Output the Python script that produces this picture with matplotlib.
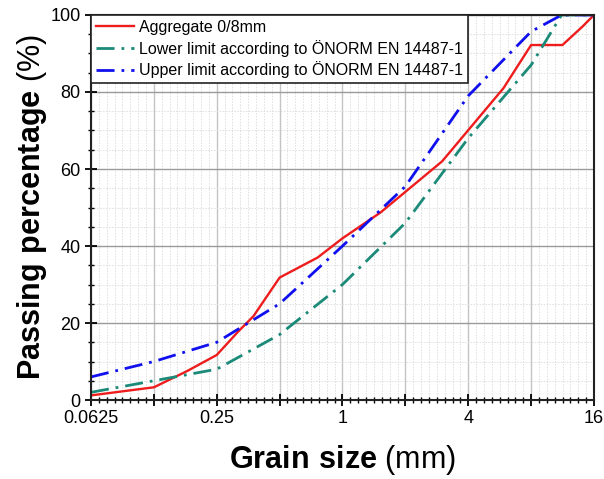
import numpy as np
import matplotlib
matplotlib.use('Agg')
import matplotlib.pyplot as plt
from matplotlib.ticker import FixedLocator, FixedFormatter, NullFormatter

plt.rcParams['font.family'] = ['Liberation Sans', 'DejaVu Sans']
plt.rcParams['mathtext.fontset'] = 'custom'
plt.rcParams['mathtext.rm'] = 'Liberation Sans'
plt.rcParams['mathtext.bf'] = 'Liberation Sans:bold'

# grading curves (grain size in mm, passing in %)
agg_size = [0.0625, 0.125, 0.18, 0.25, 0.317, 0.375, 0.5, 0.76, 1.0, 1.52, 3.0, 5.9, 8.0, 11.3, 14.1, 16.0]
agg_pass = [1.2, 3.3, 7.5, 11.7, 17.8, 21.8, 31.8, 37.0, 42.0, 48.7, 62.0, 81.0, 92.2, 92.2, 97.0, 100.0]

lim_size = [0.0625, 0.125, 0.25, 0.5, 1.0, 2.0, 4.0, 8.0, 11.2, 16.0]
lower_pass = [2.0, 5.0, 8.0, 17.0, 30.0, 46.0, 68.0, 87.0, 100.0, 100.0]
upper_pass = [6.0, 10.0, 15.0, 25.0, 40.0, 55.5, 79.0, 95.7, 100.0, 100.0]

x_ticks = [0.0625, 0.125, 0.25, 0.5, 1, 2, 4, 8, 16]
x_labels = ['0.0625', '', '0.25', '', '1', '', '4', '', '16']

fig = plt.figure(figsize=(6.04, 4.79), dpi=100)
ax = fig.add_axes([0.1507, 0.1649, 0.8327, 0.8038])

ax.plot(agg_size, agg_pass, color='#ee1c1c', lw=1.7, label='Aggregate 0/8mm')
ax.plot(lim_size, lower_pass, color='#1b8a78', lw=2.0, ls=(0, (6.5, 2.5, 1, 2.5)),
        label='Lower limit according to ÖNORM EN 14487-1')
ax.plot(lim_size, upper_pass, color='#1010ee', lw=2.0, ls=(0, (6.5, 2.5, 1, 2.5)),
        label='Upper limit according to ÖNORM EN 14487-1')

ax.set_xscale('log', base=2)
ax.set_xlim(0.0625, 16)
ax.set_ylim(0, 100)

ax.xaxis.set_major_locator(FixedLocator(x_ticks))
ax.xaxis.set_major_formatter(FixedFormatter(x_labels))
minor_x = [2.0 ** (k + j / 8) for k in range(-4, 4) for j in range(1, 8)]
ax.xaxis.set_minor_locator(FixedLocator(minor_x))
ax.xaxis.set_minor_formatter(NullFormatter())
ax.set_yticks(np.arange(0, 101, 20))
ax.set_yticks(np.arange(0, 101, 5), minor=True)

# grid
ax.grid(which='minor', color='#dedede', lw=0.7, ls=(0, (1.5, 1.5)))
ax.grid(which='major', axis='x', color='#c4c4c4', lw=1.0)
ax.grid(which='major', axis='y', color='#9a9a9a', lw=1.0)
ax.set_axisbelow(True)

ax.tick_params(which='major', direction='inout', length=9, width=1.3, labelsize=13, pad=3)
ax.tick_params(which='minor', direction='inout', length=5, width=1.0)
for s in ax.spines.values():
    s.set_linewidth(1.5)
    s.set_color('#222222')

ax.set_xlabel(r'$\bf{Grain\ size}$ (mm)', fontsize=22, labelpad=11)
ax.set_ylabel(r'$\bf{Passing\ percentage}$ (%)', fontsize=22, labelpad=1)

leg = ax.legend(loc='upper left', fontsize=11.5, borderaxespad=0, handlelength=2.4,
                handletextpad=0.3, labelspacing=0.3, borderpad=0.3, fancybox=False,
                framealpha=1, edgecolor='#222222')
leg.get_frame().set_linewidth(1.2)

plt.savefig('out.png', dpi=100)
